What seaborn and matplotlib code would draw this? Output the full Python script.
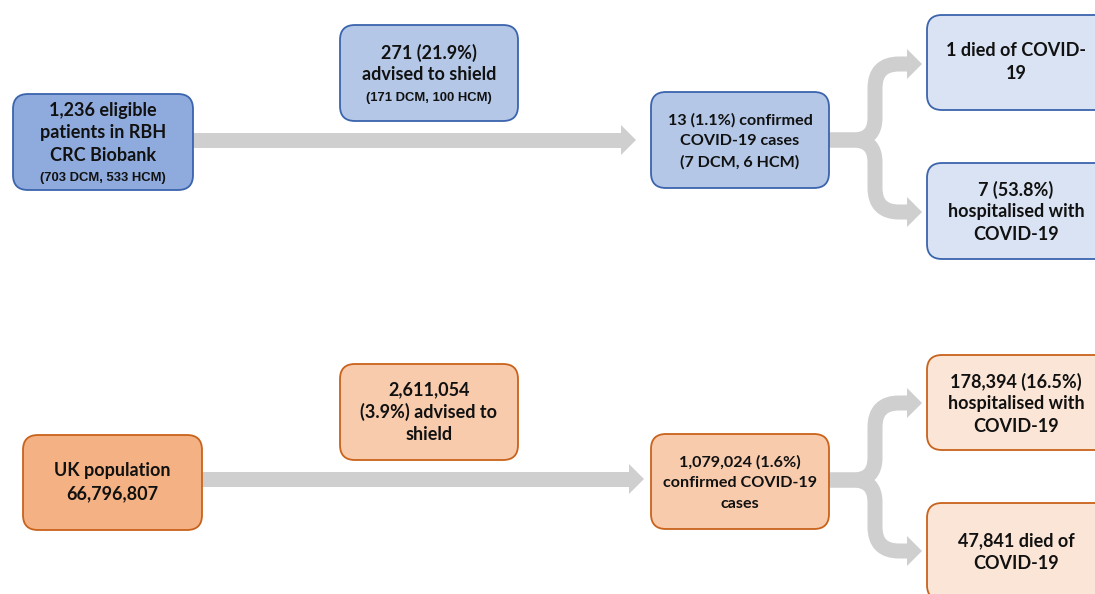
import numpy as np
import matplotlib.pyplot as plt
import seaborn as sns
from matplotlib.patches import FancyBboxPatch, Polygon
from matplotlib.path import Path
from matplotlib.patches import PathPatch

sns.set_theme(style="white")
plt.rcParams['font.family'] = ['Lato', 'DejaVu Sans']

# Box texts (cohort: RBH biobank, top row)
rbh_start = ["1,236 eligible", "patients in RBH", "CRC Biobank"]
rbh_start_sub = "(703 DCM, 533 HCM)"
rbh_shield = ["271 (21.9%)", "advised to shield"]
rbh_shield_sub = "(171 DCM, 100 HCM)"
rbh_cases = ["13 (1.1%) confirmed", "COVID-19 cases", "(7 DCM, 6 HCM)"]
rbh_died = ["1 died of COVID-", "19"]
rbh_hosp = ["7 (53.8%)", "hospitalised with", "COVID-19"]

# Box texts (UK population, bottom row)
uk_start = ["UK population", "66,796,807"]
uk_shield = ["2,611,054", "(3.9%) advised to", "shield"]
uk_cases = ["1,079,024 (1.6%)", "confirmed COVID-19", "cases"]
uk_hosp = ["178,394 (16.5%)", "hospitalised with", "COVID-19"]
uk_died = ["47,841 died of", "COVID-19"]

# colours
blue = {"dark": "#8FAADC", "mid": "#B4C7E7", "light": "#DAE3F3", "edge": "#3B64AD"}
orange = {"dark": "#F4B183", "mid": "#F8CBAD", "light": "#FBE5D6", "edge": "#C9621B"}
arrow_col = "#D0CFCF"
txt_col = "#111111"

fig = plt.figure(figsize=(10.95, 5.94), dpi=100)
ax = fig.add_axes([0, 0, 1, 1])
ax.set_xlim(0, 1095)
ax.set_ylim(594, 0)
ax.axis('off')

LW = 15 * 72 / 100  # shaft width in points


def box(x0, y0, x1, y1, fc, ec):
    p = FancyBboxPatch((x0, y0), x1 - x0, y1 - y0,
                       boxstyle="round,pad=0,rounding_size=15",
                       fc=fc, ec=ec, lw=1.3, zorder=3)
    ax.add_patch(p)


def lines(xc, yc, items, step=22.5):
    # items: list of (text, size, family)
    n = len(items)
    ys = [yc + (i - (n - 1) / 2) * step for i in range(n)]
    for (t, size, fam), y in zip(items, ys):
        ax.text(xc, y, t, ha='center', va='center', fontsize=size,
                fontweight='bold', family=fam, color=txt_col, zorder=4)


def head(xb, xt, y, h=30):
    ax.add_patch(Polygon([(xb, y - h / 2), (xt, y), (xb, y + h / 2)],
                         closed=True, fc=arrow_col, ec='none', zorder=2))


def straight(x0, xb, xt, y):
    ax.plot([x0, xb], [y, y], color=arrow_col, lw=LW, solid_capstyle='butt', zorder=2)
    head(xb, xt, y)


def fork(x0, ys, xv, y_up, y_dn, xb, xt, r1=22, r2=24):
    for yb in (y_up, y_dn):
        s = -1 if yb < ys else 1
        verts = [(x0, ys), (xv - r1, ys), (xv, ys), (xv, ys + s * r1),
                 (xv, yb - s * r2), (xv, yb), (xv + r2, yb), (xb, yb)]
        codes = [Path.MOVETO, Path.LINETO, Path.CURVE3, Path.CURVE3,
                 Path.LINETO, Path.CURVE3, Path.CURVE3, Path.LINETO]
        ax.add_patch(PathPatch(Path(verts, codes), fc='none', ec=arrow_col,
                               lw=LW, capstyle='butt', joinstyle='round', zorder=2))
        head(xb, xt, yb)


BIG = 13
MED = 11.6
SMALL = 9.4
CAL = ['Lato', 'DejaVu Sans']
ARI = ['Liberation Sans', 'DejaVu Sans']

# ---- top row (RBH) ----
straight(193, 621, 636, 140)
fork(829, 140, 875, 64, 212, 907, 922)
box(13, 94, 193, 190, blue["dark"], blue["edge"])
lines(103, 144, [(t, BIG, CAL) for t in rbh_start] + [(rbh_start_sub, SMALL, ARI)])
box(340, 25, 518, 121, blue["mid"], blue["edge"])
lines(429, 75, [(t, BIG, CAL) for t in rbh_shield] + [(rbh_shield_sub, SMALL, ARI)])
box(651, 92, 829, 188, blue["mid"], blue["edge"])
lines(740, 141, [(t, MED, CAL) for t in rbh_cases], step=21)
box(927, 15, 1110, 110, blue["light"], blue["edge"])
lines(1016, 62, [(t, BIG, CAL) for t in rbh_died])
box(927, 163, 1110, 259, blue["light"], blue["edge"])
lines(1016, 212, [(t, BIG, CAL) for t in rbh_hosp])

# ---- bottom row (UK) ----
straight(202, 629, 644, 479)
fork(829, 480, 875, 403, 551, 907, 922)
box(23, 435, 202, 530, orange["dark"], orange["edge"])
lines(112, 482, [(t, BIG, CAL) for t in uk_start])
box(340, 364, 518, 460, orange["mid"], orange["edge"])
lines(429, 412, [(t, BIG, CAL) for t in uk_shield])
box(651, 434, 829, 529, orange["mid"], orange["edge"])
lines(740, 483, [(t, MED, CAL) for t in uk_cases], step=21)
box(927, 355, 1110, 450, orange["light"], orange["edge"])
lines(1016, 404, [(t, BIG, CAL) for t in uk_hosp])
box(927, 503, 1110, 600, orange["light"], orange["edge"])
lines(1016, 552, [(t, BIG, CAL) for t in uk_died])

fig.savefig('out.png', dpi=100, facecolor='white')
